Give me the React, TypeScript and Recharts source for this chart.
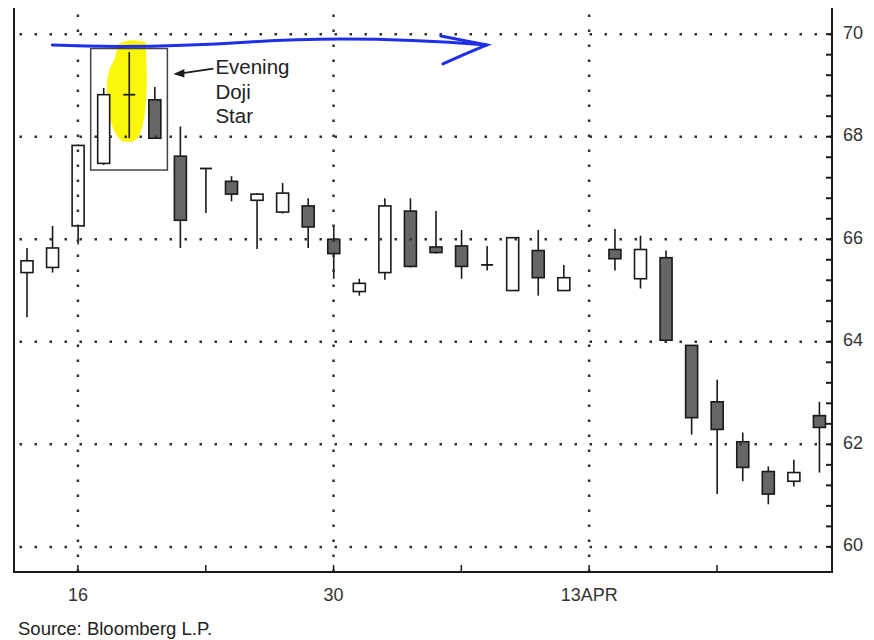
import React from 'react';
import {
  ComposedChart,
  Bar,
  XAxis,
  YAxis,
  ReferenceLine,
  ReferenceArea,
} from 'recharts';

// trading days (13APR slot has no candle)
const dates = [
  '12MAR', '13MAR', '16MAR', '17MAR', '18MAR', '19MAR', '20MAR',
  '23MAR', '24MAR', '25MAR', '26MAR', '27MAR',
  '30MAR', '31MAR', '1APR', '2APR', '3APR',
  '6APR', '7APR', '8APR', '9APR', '10APR',
  '13APR', '14APR', '15APR', '16APR', '17APR',
  '20APR', '21APR', '22APR', '23APR', '24APR',
];
const opens = [
  65.35, 65.45, 66.26, 67.48, 68.82, 68.72, 67.62,
  67.38, 67.13, 66.76, 66.53, 66.65,
  66.0, 64.98, 65.35, 66.55, 65.85,
  65.87, 65.5, 65.0, 65.78, 65.0,
  null, 65.8, 65.23, 65.64, 63.93,
  62.83, 62.05, 61.47, 61.28, 62.56,
];
const highs = [
  65.83, 66.26, 67.85, 68.95, 69.65, 68.97, 68.2,
  67.38, 67.23, 66.9, 67.1, 66.8,
  66.26, 65.23, 66.8, 66.8, 66.55,
  66.18, 65.87, 66.03, 66.18, 65.5,
  null, 66.2, 66.07, 65.78, 63.93,
  63.26, 62.23, 61.57, 61.7, 62.83,
];
const lows = [
  64.48, 65.35, 65.9, 67.45, 67.97, 67.97, 65.83,
  66.51, 66.74, 65.81, 66.5, 65.83,
  65.23, 64.9, 65.21, 65.45, 65.72,
  65.23, 65.39, 65.0, 64.9, 65.0,
  null, 65.39, 65.04, 64.03, 62.19,
  61.03, 61.28, 60.83, 61.18, 61.45,
];
const closes = [
  65.58, 65.83, 67.83, 68.82, 68.82, 67.97, 66.37,
  67.38, 66.88, 66.88, 66.9, 66.24,
  65.72, 65.14, 66.65, 65.47, 65.74,
  65.47, 65.5, 66.03, 65.25, 65.25,
  null, 65.62, 65.8, 64.03, 62.52,
  62.29, 61.55, 61.03, 61.45, 62.33,
];
const weekTicks = ['16MAR', '23MAR', '30MAR', '6APR', '13APR', '20APR'];
const tickLabels: Record<string, string> = { '16MAR': '16', '30MAR': '30', '13APR': '13APR' };
const gridDates = ['16MAR', '30MAR', '13APR'];
const priceLabels = [60, 62, 64, 66, 68, 70];
const minorTicks = Array.from({ length: 26 }, (_, i) => Math.round((60 + i * 0.4) * 10) / 10);

const rows = dates.map((d, i) => ({
  date: d,
  open: opens[i],
  high: highs[i],
  low: lows[i],
  close: closes[i],
  range: highs[i] == null ? null : [lows[i], highs[i]],
}));

const FONT = '"Liberation Sans", Arial, sans-serif';
const INK = '#1a1a1a';

function Candle(props: any) {
  const { x, y, width, height, payload } = props;
  if (payload.high == null) return null;
  const top = Math.min(y, y + height);
  const h = Math.abs(height);
  const ppu = h / (payload.high - payload.low);
  const cx = x + width / 2;
  const o = payload.open;
  const c = payload.close;
  const bTop = top + (payload.high - Math.max(o, c)) * ppu;
  const bBot = top + (payload.high - Math.min(o, c)) * ppu;
  const doji = Math.abs(c - o) < 0.03;
  return (
    <g>
      <line x1={cx} x2={cx} y1={top} y2={top + h} stroke={INK} strokeWidth={1.6} />
      {doji ? (
        <line x1={x} x2={x + width} y1={bTop} y2={bTop} stroke={INK} strokeWidth={1.8} />
      ) : (
        <rect
          x={x}
          y={bTop}
          width={width}
          height={Math.max(bBot - bTop, 2)}
          fill={c >= o ? '#fff' : '#666'}
          stroke={INK}
          strokeWidth={1.6}
        />
      )}
    </g>
  );
}

function XTick(props: any) {
  const { x, y, payload } = props;
  const v = payload.value;
  return (
    <g>
      {weekTicks.includes(v) && <line x1={x} x2={x} y1={y - 7} y2={y} stroke={INK} strokeWidth={1.5} />}
      {tickLabels[v] && (
        <text x={x} y={y + 28.5} textAnchor="middle" fontSize={18} fontFamily={FONT} fill="#333">
          {tickLabels[v]}
        </text>
      )}
    </g>
  );
}

function YTick(props: any) {
  const { x, y, payload } = props;
  const v = payload.value;
  const major = priceLabels.includes(v);
  return (
    <g>
      <line x1={x - 6} x2={x} y1={y} y2={y} stroke={INK} strokeWidth={2} />
      {major && (
        <text x={x + 11} y={y + 4.5} fontSize={18} fontFamily={FONT} fill="#333">
          {v}
        </text>
      )}
    </g>
  );
}

function Highlight(props: any) {
  const { x, y, width: w, height: h } = props;
  const d = `M ${x + 2} ${y + 4} Q ${x + w / 2} ${y - 3} ${x + w + 4} ${y + 2}
    L ${x + w + 5} ${y + 40} Q ${x + w + 4} ${y + h} ${x + w / 2 + 2} ${y + h}
    L ${x + w / 2 - 6} ${y + h} Q ${x - 7} ${y + h - 8} ${x - 9} ${y + 55}
    Q ${x - 11} ${y + 32} ${x - 2} ${y + 20} Z`;
  return <path d={d} fill="#fbf70a" />;
}

function NoteBox(props: any) {
  const { x, y, width: w, height: h } = props;
  const ax = x + w + 6;
  return (
    <g>
      <rect x={x} y={y} width={w} height={h} fill="none" stroke="#444" strokeWidth={1.5} />
      <line x1={ax + 6} y1={y + 25} x2={ax + 40} y2={y + 20} stroke={INK} strokeWidth={1.8} />
      <path d={`M ${ax} ${y + 25.5} L ${ax + 11} ${y + 20.5} L ${ax + 11} ${y + 29} Z`} fill={INK} />
      <text fontSize={20.5} fontFamily={FONT} fill="#222">
        <tspan x={ax + 42} y={y + 25}>Evening</tspan>
        <tspan x={ax + 42} y={y + 50}>Doji</tspan>
        <tspan x={ax + 42} y={y + 74}>Star</tspan>
      </text>
    </g>
  );
}

function BlueArrow(props: any) {
  const { x1, y1, x2, y2 } = props;
  const d = `M ${x1} ${y1} Q ${x1 + 90} ${y1 + 4} ${(x1 + x2) / 2 - 20} ${y1 - 3} T ${x2} ${y2}`;
  const head = `M ${x2 - 46} ${y2 - 9} Q ${x2 - 20} ${y2 - 4} ${x2} ${y2} Q ${x2 - 22} ${y2 + 9} ${x2 - 44} ${y2 + 19}`;
  return (
    <g>
      <path d={d} fill="none" stroke="#1f2fe6" strokeWidth={3} strokeLinecap="round" />
      <path d={head} fill="none" stroke="#1f2fe6" strokeWidth={3} strokeLinecap="round" />
    </g>
  );
}

export default function App() {
  return (
    <div style={{ position: 'relative', margin: -8, width: 874, height: 648, background: '#fff' }}>
      <ComposedChart width={874} height={610} data={rows} margin={{ top: 7, right: 0, bottom: 0, left: 14 }}>
        <XAxis
          dataKey="date"
          interval={0}
          tickLine={false}
          tickSize={0}
          tickMargin={0}
          height={38}
          axisLine={{ stroke: INK, strokeWidth: 2 }}
          tick={<XTick />}
        />
        <YAxis
          orientation="right"
          width={42}
          type="number"
          domain={[59.51, 70.53]}
          allowDataOverflow
          ticks={minorTicks}
          interval={0}
          tickLine={false}
          tickSize={0}
          tickMargin={0}
          axisLine={{ stroke: INK, strokeWidth: 2 }}
          tick={<YTick />}
        />
        <ReferenceArea y1={59.51} y2={70.53} fill="none" stroke={INK} strokeWidth={2} ifOverflow="visible" />
        {priceLabels.map((p) => (
          <ReferenceLine key={p} y={p} stroke="#333" strokeWidth={2.5} strokeDasharray="2.5 12.5" />
        ))}
        {gridDates.map((d) => (
          <ReferenceLine key={d} x={d} stroke="#333" strokeWidth={2.5} strokeDasharray="2.5 12.5" />
        ))}
        <ReferenceArea x1={dates[4]} x2={dates[4]} y1={67.9} y2={69.88} shape={<Highlight />} ifOverflow="visible" />
        <ReferenceArea x1={dates[3]} x2={dates[5]} y1={67.35} y2={69.72} shape={<NoteBox />} ifOverflow="visible" />
        <Bar dataKey="range" barSize={12} shape={<Candle />} isAnimationActive={false} />
        <ReferenceLine
          segment={[{ x: dates[1], y: 69.79 }, { x: dates[18], y: 69.79 }]}
          shape={<BlueArrow />}
          ifOverflow="visible"
        />
      </ComposedChart>
      <div style={{ position: 'absolute', left: 18, top: 618, fontFamily: FONT, fontSize: 18.5, lineHeight: '21px', color: '#222' }}>
        Source: Bloomberg L.P.
      </div>
    </div>
  );
}
